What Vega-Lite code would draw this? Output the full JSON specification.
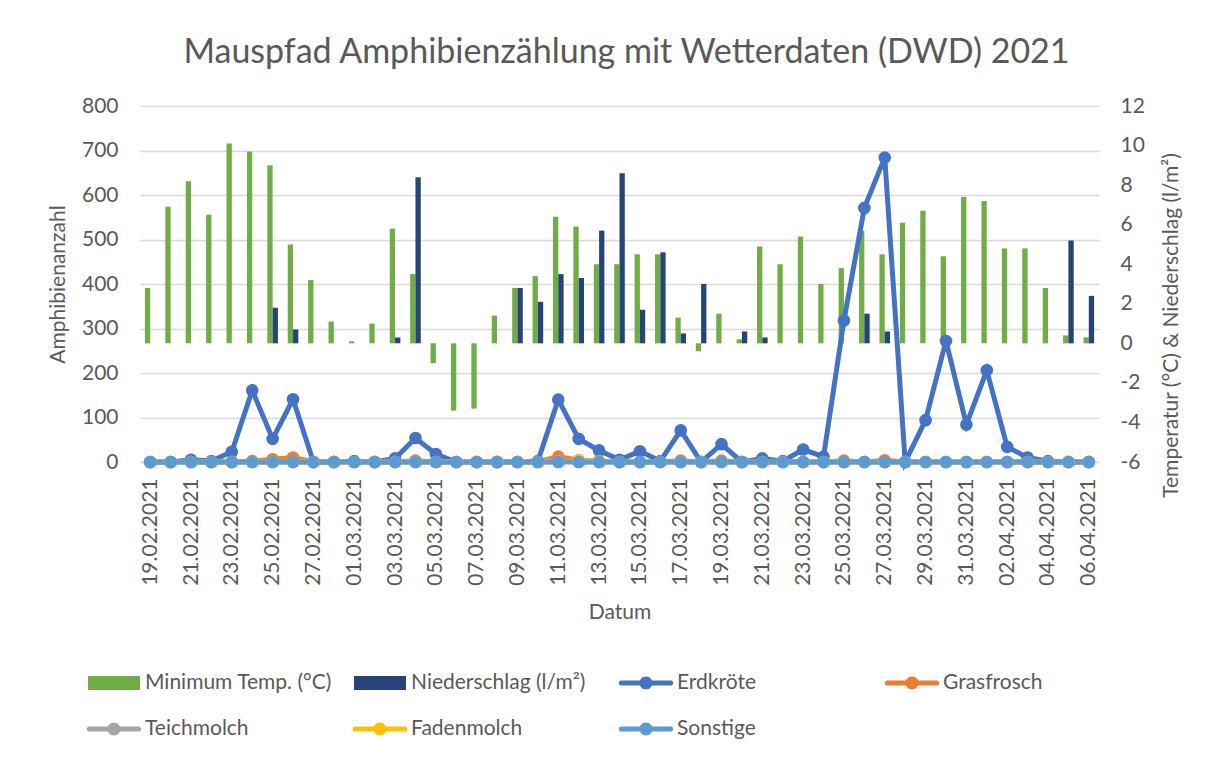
{
  "$schema": "https://vega.github.io/schema/vega-lite/v6.json",
  "width": 959,
  "height": 356,
  "autosize": {"type": "none"},
  "padding": {"left": 140, "top": 106, "right": 116, "bottom": 298},
  "background": "white",
  "config": {
    "font": "Lato",
    "view": {"stroke": null},
    "axis": {"labelColor": "#595959", "titleColor": "#595959", "labelFont": "Lato", "titleFont": "Lato", "labelFontSize": 21, "titleFontSize": 21, "titleFontWeight": "normal"}
  },
  "title": {"text": "Mauspfad Amphibienzählung mit Wetterdaten (DWD) 2021", "fontSize": 34, "fontWeight": "normal", "color": "#595959", "font": "Lato", "anchor": "middle", "frame": "group", "offset": 43, "baseline": "alphabetic", "dx": 7, "dy": 45},
  "data": {"values": [
    {"d": "19.02.2021", "temp": 2.8, "nied": 0, "Erdkröte": 0, "Grasfrosch": 0, "Teichmolch": 0, "Fadenmolch": 0, "Sonstige": 0},
    {"d": "20.02.2021", "temp": 6.9, "nied": 0, "Erdkröte": 0, "Grasfrosch": 0, "Teichmolch": 0, "Fadenmolch": 0, "Sonstige": 0},
    {"d": "21.02.2021", "temp": 8.2, "nied": 0, "Erdkröte": 5, "Grasfrosch": 0, "Teichmolch": 0, "Fadenmolch": 0, "Sonstige": 0},
    {"d": "22.02.2021", "temp": 6.5, "nied": 0, "Erdkröte": 2, "Grasfrosch": 0, "Teichmolch": 0, "Fadenmolch": 0, "Sonstige": 0},
    {"d": "23.02.2021", "temp": 10.1, "nied": 0, "Erdkröte": 23, "Grasfrosch": 0, "Teichmolch": 0, "Fadenmolch": 0, "Sonstige": 0},
    {"d": "24.02.2021", "temp": 9.7, "nied": 0, "Erdkröte": 161, "Grasfrosch": 2, "Teichmolch": 0, "Fadenmolch": 0, "Sonstige": 0},
    {"d": "25.02.2021", "temp": 9.0, "nied": 1.8, "Erdkröte": 52, "Grasfrosch": 6, "Teichmolch": 0, "Fadenmolch": 0, "Sonstige": 0},
    {"d": "26.02.2021", "temp": 5.0, "nied": 0.7, "Erdkröte": 141, "Grasfrosch": 10, "Teichmolch": 0, "Fadenmolch": 0, "Sonstige": 0},
    {"d": "27.02.2021", "temp": 3.2, "nied": 0, "Erdkröte": 0, "Grasfrosch": 0, "Teichmolch": 0, "Fadenmolch": 0, "Sonstige": 0},
    {"d": "28.02.2021", "temp": 1.1, "nied": 0, "Erdkröte": 0, "Grasfrosch": 0, "Teichmolch": 0, "Fadenmolch": 0, "Sonstige": 0},
    {"d": "01.03.2021", "temp": 0.1, "nied": 0, "Erdkröte": 2, "Grasfrosch": 0, "Teichmolch": 0, "Fadenmolch": 0, "Sonstige": 0},
    {"d": "02.03.2021", "temp": 1.0, "nied": 0, "Erdkröte": 0, "Grasfrosch": 0, "Teichmolch": 0, "Fadenmolch": 0, "Sonstige": 0},
    {"d": "03.03.2021", "temp": 5.8, "nied": 0.3, "Erdkröte": 8, "Grasfrosch": 0, "Teichmolch": 0, "Fadenmolch": 0, "Sonstige": 0},
    {"d": "04.03.2021", "temp": 3.5, "nied": 8.4, "Erdkröte": 54, "Grasfrosch": 3, "Teichmolch": 0, "Fadenmolch": 0, "Sonstige": 0},
    {"d": "05.03.2021", "temp": -1.0, "nied": 0, "Erdkröte": 18, "Grasfrosch": 0, "Teichmolch": 0, "Fadenmolch": 0, "Sonstige": 0},
    {"d": "06.03.2021", "temp": -3.4, "nied": 0, "Erdkröte": 0, "Grasfrosch": 0, "Teichmolch": 0, "Fadenmolch": 0, "Sonstige": 0},
    {"d": "07.03.2021", "temp": -3.3, "nied": 0, "Erdkröte": 0, "Grasfrosch": 0, "Teichmolch": 0, "Fadenmolch": 0, "Sonstige": 0},
    {"d": "08.03.2021", "temp": 1.4, "nied": 0, "Erdkröte": 0, "Grasfrosch": 0, "Teichmolch": 0, "Fadenmolch": 0, "Sonstige": 0},
    {"d": "09.03.2021", "temp": 2.8, "nied": 2.8, "Erdkröte": 0, "Grasfrosch": 0, "Teichmolch": 0, "Fadenmolch": 0, "Sonstige": 0},
    {"d": "10.03.2021", "temp": 3.4, "nied": 2.1, "Erdkröte": 2, "Grasfrosch": 0, "Teichmolch": 0, "Fadenmolch": 0, "Sonstige": 0},
    {"d": "11.03.2021", "temp": 6.4, "nied": 3.5, "Erdkröte": 140, "Grasfrosch": 12, "Teichmolch": 2, "Fadenmolch": 0, "Sonstige": 0},
    {"d": "12.03.2021", "temp": 5.9, "nied": 3.3, "Erdkröte": 52, "Grasfrosch": 4, "Teichmolch": 0, "Fadenmolch": 3, "Sonstige": 0},
    {"d": "13.03.2021", "temp": 4.0, "nied": 5.7, "Erdkröte": 26, "Grasfrosch": 2, "Teichmolch": 0, "Fadenmolch": 1, "Sonstige": 0},
    {"d": "14.03.2021", "temp": 4.0, "nied": 8.6, "Erdkröte": 5, "Grasfrosch": 0, "Teichmolch": 0, "Fadenmolch": 0, "Sonstige": 0},
    {"d": "15.03.2021", "temp": 4.5, "nied": 1.7, "Erdkröte": 24, "Grasfrosch": 0, "Teichmolch": 0, "Fadenmolch": 0, "Sonstige": 0},
    {"d": "16.03.2021", "temp": 4.5, "nied": 4.6, "Erdkröte": 2, "Grasfrosch": 0, "Teichmolch": 0, "Fadenmolch": 0, "Sonstige": 0},
    {"d": "17.03.2021", "temp": 1.3, "nied": 0.5, "Erdkröte": 71, "Grasfrosch": 3, "Teichmolch": 0, "Fadenmolch": 0, "Sonstige": 0},
    {"d": "18.03.2021", "temp": -0.4, "nied": 3.0, "Erdkröte": 0, "Grasfrosch": 0, "Teichmolch": 0, "Fadenmolch": 0, "Sonstige": 0},
    {"d": "19.03.2021", "temp": 1.5, "nied": 0, "Erdkröte": 40, "Grasfrosch": 3, "Teichmolch": 0, "Fadenmolch": 0, "Sonstige": 0},
    {"d": "20.03.2021", "temp": 0.2, "nied": 0.6, "Erdkröte": 0, "Grasfrosch": 0, "Teichmolch": 0, "Fadenmolch": 0, "Sonstige": 0},
    {"d": "21.03.2021", "temp": 4.9, "nied": 0.3, "Erdkröte": 8, "Grasfrosch": 0, "Teichmolch": 0, "Fadenmolch": 0, "Sonstige": 0},
    {"d": "22.03.2021", "temp": 4.0, "nied": 0, "Erdkröte": 2, "Grasfrosch": 0, "Teichmolch": 0, "Fadenmolch": 0, "Sonstige": 0},
    {"d": "23.03.2021", "temp": 5.4, "nied": 0, "Erdkröte": 28, "Grasfrosch": 0, "Teichmolch": 0, "Fadenmolch": 0, "Sonstige": 0},
    {"d": "24.03.2021", "temp": 3.0, "nied": 0, "Erdkröte": 12, "Grasfrosch": 0, "Teichmolch": 0, "Fadenmolch": 0, "Sonstige": 0},
    {"d": "25.03.2021", "temp": 3.8, "nied": 0, "Erdkröte": 318, "Grasfrosch": 3, "Teichmolch": 0, "Fadenmolch": 0, "Sonstige": 0},
    {"d": "26.03.2021", "temp": 5.7, "nied": 1.5, "Erdkröte": 571, "Grasfrosch": 0, "Teichmolch": 0, "Fadenmolch": 0, "Sonstige": 0},
    {"d": "27.03.2021", "temp": 4.5, "nied": 0.6, "Erdkröte": 684, "Grasfrosch": 4, "Teichmolch": 0, "Fadenmolch": 0, "Sonstige": 0},
    {"d": "28.03.2021", "temp": 6.1, "nied": 0, "Erdkröte": 0, "Grasfrosch": 0, "Teichmolch": 0, "Fadenmolch": 0, "Sonstige": 0},
    {"d": "29.03.2021", "temp": 6.7, "nied": 0, "Erdkröte": 94, "Grasfrosch": 0, "Teichmolch": 0, "Fadenmolch": 0, "Sonstige": 0},
    {"d": "30.03.2021", "temp": 4.4, "nied": 0, "Erdkröte": 272, "Grasfrosch": 0, "Teichmolch": 0, "Fadenmolch": 0, "Sonstige": 0},
    {"d": "31.03.2021", "temp": 7.4, "nied": 0, "Erdkröte": 84, "Grasfrosch": 0, "Teichmolch": 0, "Fadenmolch": 0, "Sonstige": 0},
    {"d": "01.04.2021", "temp": 7.2, "nied": 0, "Erdkröte": 206, "Grasfrosch": 0, "Teichmolch": 0, "Fadenmolch": 0, "Sonstige": 0},
    {"d": "02.04.2021", "temp": 4.8, "nied": 0, "Erdkröte": 34, "Grasfrosch": 0, "Teichmolch": 0, "Fadenmolch": 0, "Sonstige": 0},
    {"d": "03.04.2021", "temp": 4.8, "nied": 0, "Erdkröte": 10, "Grasfrosch": 0, "Teichmolch": 0, "Fadenmolch": 0, "Sonstige": 0},
    {"d": "04.04.2021", "temp": 2.8, "nied": 0, "Erdkröte": 2, "Grasfrosch": 0, "Teichmolch": 0, "Fadenmolch": 0, "Sonstige": 0},
    {"d": "05.04.2021", "temp": 0.4, "nied": 5.2, "Erdkröte": 0, "Grasfrosch": 0, "Teichmolch": 0, "Fadenmolch": 0, "Sonstige": 0},
    {"d": "06.04.2021", "temp": 0.3, "nied": 2.4, "Erdkröte": 0, "Grasfrosch": 0, "Teichmolch": 0, "Fadenmolch": 0, "Sonstige": 0}
  ]},
  "encoding": {
    "x": {
      "field": "d", "type": "ordinal", "sort": null,
      "scale": {"paddingInner": 0.48, "paddingOuter": 0.24},
      "axis": {
        "title": "Datum", "titleY": 156, "titleBaseline": "alphabetic",
        "labelAngle": 270, "labelAlign": "right", "labelBaseline": "middle", "labelPadding": 11,
        "labelExpr": "round(datum.index * 46) % 2 == 0 ? datum.label : ''",
        "labelOverlap": false,
        "ticks": true, "tickBand": "extent", "tickSize": 5, "tickColor": "#d9d9d9", "tickWidth": 1.5,
        "domain": true, "domainColor": "#d9d9d9", "domainWidth": 1.5, "grid": false
      }
    }
  },
  "layer": [
    {
      "transform": [{"fold": ["temp", "nied"], "as": ["s", "v"]}],
      "mark": {"type": "bar"},
      "encoding": {
        "xOffset": {"field": "s", "type": "nominal", "sort": ["temp", "nied"], "scale": {"paddingInner": 0, "paddingOuter": 0}},
        "y": {
          "field": "v", "type": "quantitative",
          "scale": {"domain": [-6, 12], "nice": false, "zero": false},
          "axis": {
            "orient": "right", "title": "Temperatur (°C) & Niederschlag (l/m²)",
            "values": [-6, -4, -2, 0, 2, 4, 6, 8, 10, 12],
            "labelExpr": "replace(datum.label, '−', '-')",
            "grid": false, "domain": false, "ticks": false, "labelPadding": 21,
            "titleAngle": 270, "titleX": 72, "titleY": 219, "titleAlign": "center", "titleBaseline": "middle"
          }
        },
        "color": {
          "field": "s", "type": "nominal",
          "scale": {
            "domain": ["temp", "nied", "Erdkröte", "Grasfrosch", "Teichmolch", "Fadenmolch", "Sonstige"],
            "range": ["#70ad47", "#264478", "#4472c4", "#ed7d31", "#a5a5a5", "#ffc000", "#5b9bd5"]
          },
          "legend": {
            "title": null, "orient": "none", "legendX": -52, "legendY": 551,
            "direction": "horizontal", "columns": 4, "gridAlign": "all", "columnPadding": 19, "rowPadding": 10,
            "padding": 0, "symbolSize": 2704, "symbolType": "M-1,-0.27H1V0.27H-1Z",
            "labelFontSize": 21, "labelColor": "#595959", "labelFont": "Lato", "labelOffset": 5, "labelLimit": 400,
            "labelExpr": "datum.label == 'temp' ? 'Minimum Temp. (°C)' : datum.label == 'nied' ? 'Niederschlag (l/m²)' : datum.label",
            "encode": {
              "symbols": {
                "update": {
                  "shape": {"signal": "indexof(['temp','nied'], datum.value) >= 0 ? 'M-1,-0.27H1V0.27H-1Z' : 'M-0.95,-0.1H0.95A0.1,0.1 0 0 1 0.95,0.1H-0.95A0.1,0.1 0 0 1 -0.95,-0.1Z M-0.25,0A0.25,0.25 0 1 1 0.25,0A0.25,0.25 0 1 1 -0.25,0Z'"},
                  "fill": {"scale": "color", "field": "value"},
                  "opacity": {"value": 1},
                  "strokeWidth": {"value": 0}
                }
              }
            }
          }
        }
      }
    },
    {
      "transform": [{"fold": ["Erdkröte", "Grasfrosch", "Teichmolch", "Fadenmolch", "Sonstige"], "as": ["s", "v"]}],
      "mark": {"type": "line", "strokeWidth": 5, "point": {"filled": true, "size": 160, "opacity": 1}},
      "encoding": {
        "y": {
          "field": "v", "type": "quantitative",
          "scale": {"domain": [0, 800], "nice": false},
          "axis": {
            "orient": "left", "title": "Amphibienanzahl",
            "values": [0, 100, 200, 300, 400, 500, 600, 700, 800],
            "grid": true, "gridColor": "#d9d9d9", "gridWidth": 1.5,
            "domain": false, "ticks": false, "labelPadding": 22,
            "titleAngle": 270, "titleX": -82, "titleY": 178, "titleAlign": "center", "titleBaseline": "middle"
          }
        },
        "color": {"field": "s", "type": "nominal"}
      }
    }
  ],
  "resolve": {"scale": {"y": "independent"}}
}
